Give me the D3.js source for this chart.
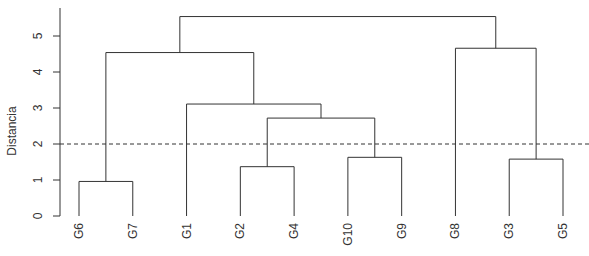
<!DOCTYPE html>
<html>
<head>
<meta charset="utf-8">
<script src="https://cdn.jsdelivr.net/npm/d3@7"></script>
<style>
  body { margin: 0; background: #fff; }
  text { font-family: "Liberation Sans", Arial, sans-serif; fill: #333; }
</style>
</head>
<body>
<div id="chart"></div>
<script>
var width = 589,
    height = 256;

// leaf order as drawn
var labels = ["G6", "G7", "G1", "G2", "G4", "G10", "G9", "G8", "G3", "G5"];
// merges: "L" + index = leaf in labels, number = earlier merge (1-based)
var merges = [
    ["L0", "L1"],   // 1: G6 G7
    ["L3", "L4"],   // 2: G2 G4
    ["L8", "L9"],   // 3: G3 G5
    ["L5", "L6"],   // 4: G10 G9
    [2, 4],         // 5
    ["L2", 5],      // 6: G1 + 5
    [1, 6],         // 7
    ["L7", 3],      // 8: G8 + 3
    [7, 8]          // 9
];
var heights = [0.96, 1.37, 1.58, 1.63, 2.72, 3.11, 4.54, 4.66, 5.54];
var yTicks = [0, 1, 2, 3, 4, 5];
var cutHeight = 2;

var svg = d3.select("#chart").append("svg")
    .attr("width", width)
    .attr("height", height);

var x = d3.scalePoint()
    .domain(labels)
    .range([79, 563]);

var y = d3.scaleLinear()
    .domain([0, 5])
    .range([216, 36]);

// position of each merge node
var nodes = [];
function nodePos(ref) {
    if (typeof ref === "string") {
        return {x: x(labels[+ref.slice(1)]), h: 0};
    }
    return nodes[ref - 1];
}
merges.forEach(function(m, i) {
    var a = nodePos(m[0]), b = nodePos(m[1]);
    nodes.push({x: (a.x + b.x) / 2, h: heights[i], a: a, b: b});
});

var g = svg.append("g");
nodes.forEach(function(n) {
    var pts = [[n.a.x, y(n.a.h)], [n.a.x, y(n.h)], [n.b.x, y(n.h)], [n.b.x, y(n.b.h)]];
    g.append("path")
        .attr("d", d3.line()(pts))
        .attr("fill", "none")
        .attr("stroke", "#333")
        .attr("stroke-width", 1);
});

// cut line
svg.append("line")
    .attr("x1", 60).attr("x2", width)
    .attr("y1", y(cutHeight)).attr("y2", y(cutHeight))
    .attr("stroke", "#333")
    .attr("stroke-dasharray", "4,3");

// y axis
var yAxis = svg.append("g")
    .attr("transform", "translate(60,0)");
yAxis.append("line")
    .attr("x1", 0).attr("x2", 0)
    .attr("y1", 8).attr("y2", y(0))
    .attr("stroke", "#333");
yAxis.selectAll(".tick")
    .data(yTicks)
    .join("line")
    .attr("x1", -7).attr("x2", 0)
    .attr("y1", d => y(d)).attr("y2", d => y(d))
    .attr("stroke", "#333");
yAxis.selectAll(".lab")
    .data(yTicks)
    .join("text")
    .attr("transform", d => "translate(-18," + y(d) + ") rotate(-90)")
    .attr("text-anchor", "middle")
    .style("font-size", "12px")
    .text(d => d);

svg.append("text")
    .attr("transform", "translate(16,131) rotate(-90)")
    .attr("text-anchor", "middle")
    .style("font-size", "12px")
    .text("Distancia");

// leaf labels
svg.selectAll(".leaf")
    .data(labels)
    .join("text")
    .attr("transform", d => "translate(" + (x(d) + 4) + ",223) rotate(-90)")
    .attr("text-anchor", "end")
    .style("font-size", "12px")
    .text(d => d);
</script>
</body>
</html>
